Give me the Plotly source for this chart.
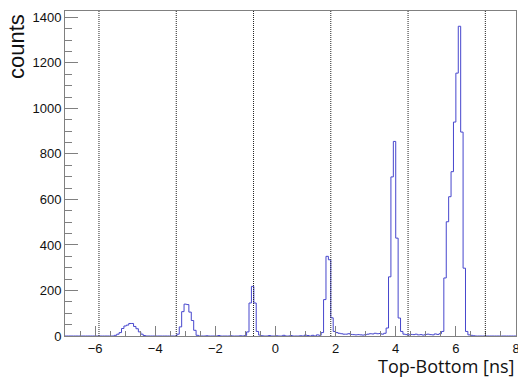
import numpy as np
import plotly.graph_objects as go

# Histogram definition: 188 bins of 0.08 ns starting at -7.04 ns
bin_low = -7.04
bin_width = 0.08

bg_left = [0] * 21                       # -7.04 .. -5.36
peak1 = [3, 8, 15, 33, 44, 48, 55, 55, 42, 32, 18, 8, 2]      # -5.36 .. -4.32
gap1 = [0] * 13                          # -4.32 .. -3.28
peak2 = [8, 40, 107, 140, 138, 105, 68, 25]                   # -3.28 .. -2.64
gap2 = [3, 0, 0, 0, 1, 0, 0, 0, 0, 2, 0, 0, 0, 0, 1, 0, 0, 0, 1, 0, 2]
peak3 = [18, 145, 218, 145, 20]                               # -0.96 .. -0.56
gap3 = [4, 1, 0, 0, 2, 0, 0, 1, 0, 0, 3, 0, 0, 2, 0, 0, 0, 1, 0, 4, 2, 0, 3, 0, 5, 3]
peak4 = [15, 160, 350, 335, 80, 20]                           # 1.52 .. 2.00
gap4 = [15, 12, 10, 8, 8, 10, 7, 6, 5, 6, 5, 4, 6, 8, 10, 9, 12, 10, 11, 8, 12]
peak5 = [35, 260, 699, 855, 430, 79, 20]                      # 3.68 .. 4.24
gap5 = [8, 6, 5, 7, 6, 8, 5, 6, 4, 7, 8, 6, 5, 9, 7, 10]
peak6 = [20, 255, 502, 612, 722, 940, 1155, 1361, 896, 298, 20]  # 5.52 .. 6.40
bg_right = [5, 3, 1, 0, 0, 0, 0, 0, 0, 0, 0, 0, 0, 0, 0, 0, 0, 0, 0, 0]

counts = (bg_left + peak1 + gap1 + peak2 + gap2 + peak3 + gap3 + peak4
          + gap4 + peak5 + gap5 + peak6 + bg_right)

separators = [-5.87, -3.30, -0.73, 1.84, 4.41, 6.98]

x_ticks = [-6, -4, -2, 0, 2, 4, 6, 8]
y_ticks = [0, 200, 400, 600, 800, 1000, 1200, 1400]

n = len(counts)
edges = bin_low + bin_width * np.arange(n + 1)
xs = list(edges)
ys = list(counts) + [counts[-1]]

fig = go.Figure()
fig.add_trace(go.Scatter(
    x=xs, y=ys, mode="lines", line=dict(shape="hv", color="rgb(70,70,205)", width=1),
    showlegend=False, hoverinfo="skip"))

for s in separators:
    fig.add_shape(type="line", xref="x", yref="paper", x0=s, x1=s, y0=0, y1=1,
                  line=dict(color="#222222", width=1, dash="1px,1px"))

axis_color = "#808080"
fig.update_xaxes(
    range=[-7, 8], tickvals=x_ticks, ticktext=["\u22126", "\u22124", "\u22122", "0", "2", "4", "6", "8"],
    ticks="inside", ticklen=10, tickcolor=axis_color, tickwidth=1,
    minor=dict(dtick=0.5, tick0=0, ticks="inside", ticklen=5, tickcolor=axis_color, tickwidth=1),
    showline=True, linecolor=axis_color, linewidth=1, mirror=True,
    showgrid=False, zeroline=False, automargin=False, ticklabeloverflow="allow",
    tickfont=dict(family="Liberation Sans", size=13, color="#111111"))
fig.update_yaxes(
    range=[0, 1428], tickvals=y_ticks,
    ticks="inside", ticklen=13, tickcolor=axis_color, tickwidth=1,
    minor=dict(dtick=50, tick0=0, ticks="inside", ticklen=7, tickcolor=axis_color, tickwidth=1),
    showline=True, linecolor=axis_color, linewidth=1, mirror=True,
    showgrid=False, zeroline=False, automargin=False,
    tickfont=dict(family="Liberation Sans", size=13, color="#111111"))

fig.add_annotation(text="Top-Bottom [ns]", xref="paper", yref="paper", x=1.0, y=-0.093,
                   xanchor="right", yanchor="middle", showarrow=False,
                   font=dict(family="Open Sans", size=18, color="#111111"))
fig.add_annotation(text="counts", xref="paper", yref="paper", x=-0.106, y=0.996,
                   xanchor="center", yanchor="top", textangle=-90, showarrow=False,
                   font=dict(family="Liberation Sans", size=22, color="#111111"))

fig.update_layout(
    width=518, height=377,
    margin=dict(l=65, r=2, t=11, b=41),
    paper_bgcolor="white", plot_bgcolor="white")

fig.write_html("out.html", config={"displayModeBar": False},
               post_script="document.body.style.margin='0';document.body.style.overflow='hidden';")
